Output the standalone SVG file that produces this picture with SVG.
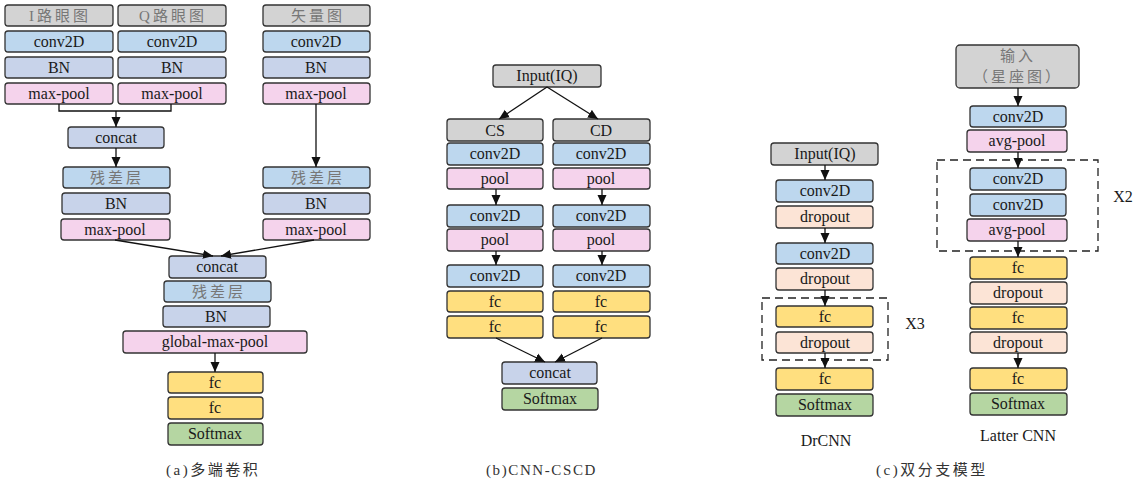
<svg xmlns="http://www.w3.org/2000/svg" width="1146" height="487" viewBox="0 0 1146 487">
<defs>
<marker id="ah" markerUnits="userSpaceOnUse" markerWidth="10" markerHeight="10" refX="10" refY="5" orient="auto">
<path d="M0,0.5 L10,5 L0,9.5 z" fill="#111"/>
</marker>
<style>
rect.g,rect.b,rect.n,rect.p,rect.y,rect.s,rect.d{stroke:#333;stroke-width:1.3}
.g{fill:#d3d3d3}.b{fill:#bdd7ee}.n{fill:#c8d3ea}.p{fill:#f5d3ec}.y{fill:#ffdf7f}.s{fill:#b5d6a2}.d{fill:#fce4d6}
text{font-family:"Liberation Serif","Times New Roman","DejaVu Serif",serif;font-size:16px;fill:#1a1a1a;text-anchor:middle}
.zh{font-family:"Liberation Serif","Noto Sans CJK SC",serif;fill:#777;font-size:15px;letter-spacing:3px}
.cap{font-family:"Liberation Serif","Noto Sans CJK SC",serif;font-size:15px;fill:#333;text-anchor:start;letter-spacing:2.5px}
.lt{letter-spacing:1.6px}
.c line,.c polyline{stroke:#111;stroke-width:1.3;fill:none}
.dash{fill:none;stroke:#222;stroke-width:1.3;stroke-dasharray:8,5}
</style>
</defs>
<rect width="1146" height="487" fill="#fff"/>

<!-- (a) -->
<g id="a-i"><rect class="g" x="5" y="5" width="108" height="21" rx="3"/><text class="zh" x="60" y="21">I路眼图</text></g>
<g id="a-q"><rect class="g" x="118" y="5" width="108" height="21" rx="3"/><text class="zh" x="173" y="21">Q路眼图</text></g>
<g id="a-v"><rect class="g" x="263" y="5" width="107" height="21" rx="3"/><text class="zh" x="318" y="21">矢量图</text></g>
<g id="a-c1"><rect class="b" x="5" y="31" width="108" height="21" rx="3"/><text x="59" y="47">conv2D</text></g>
<g id="a-c2"><rect class="b" x="118" y="31" width="108" height="21" rx="3"/><text x="172" y="47">conv2D</text></g>
<g id="a-c3"><rect class="b" x="263" y="31" width="107" height="21" rx="3"/><text x="316" y="47">conv2D</text></g>
<g id="a-bn1"><rect class="n" x="5" y="57" width="108" height="21" rx="3"/><text x="59" y="73">BN</text></g>
<g id="a-bn2"><rect class="n" x="118" y="57" width="108" height="21" rx="3"/><text x="172" y="73">BN</text></g>
<g id="a-bn3"><rect class="n" x="263" y="57" width="107" height="21" rx="3"/><text x="316" y="73">BN</text></g>
<g id="a-mp1"><rect class="p" x="5" y="83" width="108" height="21" rx="3"/><text x="59" y="99">max-pool</text></g>
<g id="a-mp2"><rect class="p" x="118" y="83" width="108" height="21" rx="3"/><text x="172" y="99">max-pool</text></g>
<g id="a-mp3"><rect class="p" x="263" y="83" width="107" height="21" rx="3"/><text x="316" y="99">max-pool</text></g>
<g id="a-concat1"><rect class="n" x="68" y="127" width="96" height="21" rx="3"/><text x="116" y="143">concat</text></g>
<g id="a-res1"><rect class="b" x="63" y="167" width="107" height="21" rx="3"/><text class="zh" x="117" y="183">残差层</text></g>
<g id="a-res2"><rect class="b" x="263" y="167" width="107" height="21" rx="3"/><text class="zh" x="318" y="183">残差层</text></g>
<g id="a-bn4"><rect class="n" x="62" y="193" width="108" height="21" rx="3"/><text x="116" y="209">BN</text></g>
<g id="a-bn5"><rect class="n" x="263" y="193" width="107" height="21" rx="3"/><text x="316" y="209">BN</text></g>
<g id="a-mp4"><rect class="p" x="61" y="219" width="109" height="21" rx="3"/><text x="115" y="235">max-pool</text></g>
<g id="a-mp5"><rect class="p" x="263" y="219" width="107" height="21" rx="3"/><text x="316" y="235">max-pool</text></g>
<g id="a-concat2"><rect class="n" x="169" y="256" width="97" height="22" rx="3"/><text x="217" y="272">concat</text></g>
<g id="a-res3"><rect class="b" x="164" y="281" width="107" height="21" rx="3"/><text class="zh" x="219" y="297">残差层</text></g>
<g id="a-bn6"><rect class="n" x="163" y="306" width="107" height="21" rx="3"/><text x="216" y="322">BN</text></g>
<g id="a-gmp"><rect class="p" x="123" y="331" width="184" height="22" rx="3"/><text x="215" y="347">global-max-pool</text></g>
<g id="a-fc1"><rect class="y" x="168" y="372" width="95" height="21" rx="3"/><text x="215" y="388">fc</text></g>
<g id="a-fc2"><rect class="y" x="168" y="397" width="95" height="22" rx="3"/><text x="215" y="413">fc</text></g>
<g id="a-sm"><rect class="s" x="168" y="423" width="95" height="22" rx="3"/><text x="215" y="439">Softmax</text></g>

<!-- (b) -->
<g id="b-in"><rect class="g" x="493" y="65" width="108" height="22" rx="3"/><text x="547" y="81">Input(IQ)</text></g>
<g id="b-cs"><rect class="g" x="447" y="119" width="96" height="22" rx="3"/><text x="495" y="136">CS</text></g>
<g id="b-cd"><rect class="g" x="553" y="119" width="97" height="22" rx="3"/><text x="601" y="136">CD</text></g>
<g id="b-c1"><rect class="b" x="447" y="143" width="96" height="22" rx="3"/><text x="495" y="159">conv2D</text></g>
<g id="b-c2"><rect class="b" x="553" y="143" width="97" height="22" rx="3"/><text x="601" y="159">conv2D</text></g>
<g id="b-p1"><rect class="p" x="447" y="168" width="96" height="21" rx="3"/><text x="495" y="184">pool</text></g>
<g id="b-p2"><rect class="p" x="553" y="168" width="97" height="21" rx="3"/><text x="601" y="184">pool</text></g>
<g id="b-c3"><rect class="b" x="447" y="205" width="96" height="22" rx="3"/><text x="495" y="221">conv2D</text></g>
<g id="b-c4"><rect class="b" x="553" y="205" width="97" height="22" rx="3"/><text x="601" y="221">conv2D</text></g>
<g id="b-p3"><rect class="p" x="447" y="229" width="96" height="22" rx="3"/><text x="495" y="245">pool</text></g>
<g id="b-p4"><rect class="p" x="553" y="229" width="97" height="22" rx="3"/><text x="601" y="245">pool</text></g>
<g id="b-c5"><rect class="b" x="447" y="265" width="96" height="22" rx="3"/><text x="495" y="281">conv2D</text></g>
<g id="b-c6"><rect class="b" x="553" y="265" width="97" height="22" rx="3"/><text x="601" y="281">conv2D</text></g>
<g id="b-f1"><rect class="y" x="447" y="291" width="96" height="21" rx="3"/><text x="495" y="307">fc</text></g>
<g id="b-f2"><rect class="y" x="553" y="291" width="97" height="21" rx="3"/><text x="601" y="307">fc</text></g>
<g id="b-f3"><rect class="y" x="447" y="316" width="96" height="22" rx="3"/><text x="495" y="332">fc</text></g>
<g id="b-f4"><rect class="y" x="553" y="316" width="97" height="22" rx="3"/><text x="601" y="332">fc</text></g>
<g id="b-concat"><rect class="n" x="502" y="362" width="95" height="22" rx="3"/><text x="550" y="378">concat</text></g>
<g id="b-sm"><rect class="s" x="502" y="388" width="96" height="22" rx="3"/><text x="550" y="404">Softmax</text></g>

<!-- (c) DrCNN -->
<g id="d-in"><rect class="g" x="771" y="143" width="107" height="22" rx="3"/><text x="825" y="159">Input(IQ)</text></g>
<g id="d-c1"><rect class="b" x="776" y="180" width="97" height="22" rx="3"/><text x="825" y="196">conv2D</text></g>
<g id="d-d1"><rect class="d" x="776" y="206" width="97" height="22" rx="3"/><text x="825" y="222">dropout</text></g>
<g id="d-c2"><rect class="b" x="776" y="243" width="97" height="21" rx="3"/><text x="825" y="259">conv2D</text></g>
<g id="d-d2"><rect class="d" x="776" y="268" width="97" height="22" rx="3"/><text x="825" y="284">dropout</text></g>
<g id="d-rep"><rect class="dash" x="762" y="298" width="126" height="62"/><text x="915" y="329">X3</text></g>
<g id="d-f1"><rect class="y" x="776" y="306" width="97" height="21" rx="3"/><text x="825" y="322">fc</text></g>
<g id="d-d3"><rect class="d" x="776" y="332" width="97" height="21" rx="3"/><text x="825" y="348">dropout</text></g>
<g id="d-f2"><rect class="y" x="776" y="368" width="97" height="22" rx="3"/><text x="825" y="384">fc</text></g>
<g id="d-sm"><rect class="s" x="776" y="394" width="97" height="22" rx="3"/><text x="825" y="410">Softmax</text></g>
<text x="826" y="446">DrCNN</text>

<!-- (c) Latter CNN -->
<g id="l-in"><rect class="g" x="956" y="45" width="123" height="43" rx="4"/><text class="zh" x="1018" y="61">输入</text><text class="zh" x="1018" y="82">（星座图）</text></g>
<g id="l-c1"><rect class="b" x="970" y="106" width="96" height="21" rx="3"/><text x="1018" y="122">conv2D</text></g>
<g id="l-a1"><rect class="p" x="967" y="130" width="100" height="22" rx="3"/><text x="1017" y="146">avg-pool</text></g>
<g id="l-rep"><rect class="dash" x="937" y="160" width="161" height="91"/><text x="1123" y="202">X2</text></g>
<g id="l-c2"><rect class="b" x="970" y="168" width="96" height="22" rx="3"/><text x="1018" y="184">conv2D</text></g>
<g id="l-c3"><rect class="b" x="970" y="194" width="96" height="22" rx="3"/><text x="1018" y="210">conv2D</text></g>
<g id="l-a2"><rect class="p" x="967" y="219" width="100" height="22" rx="3"/><text x="1017" y="235">avg-pool</text></g>
<g id="l-f1"><rect class="y" x="970" y="257" width="97" height="22" rx="3"/><text x="1018" y="273">fc</text></g>
<g id="l-d1"><rect class="d" x="970" y="282" width="97" height="22" rx="3"/><text x="1018" y="298">dropout</text></g>
<g id="l-f2"><rect class="y" x="970" y="307" width="97" height="22" rx="3"/><text x="1018" y="323">fc</text></g>
<g id="l-d2"><rect class="d" x="970" y="332" width="97" height="21" rx="3"/><text x="1018" y="348">dropout</text></g>
<g id="l-f3"><rect class="y" x="970" y="368" width="97" height="22" rx="3"/><text x="1018" y="384">fc</text></g>
<g id="l-sm"><rect class="s" x="970" y="393" width="97" height="22" rx="3"/><text x="1018" y="409">Softmax</text></g>
<text x="1018" y="441">Latter CNN</text>

<!-- captions -->
<text class="cap" x="166" y="475">(a)多端卷积</text>
<text class="cap lt" x="486" y="475">(b)CNN-CSCD</text>
<text class="cap" x="876" y="475">(c)双分支模型</text>

<!-- connectors -->
<g class="c" id="connectors">
<polyline points="59,104 59,111 171,111 171,104"/>
<line x1="116" y1="111" x2="116" y2="127" marker-end="url(#ah)"/>
<line x1="116" y1="148" x2="116" y2="167" marker-end="url(#ah)"/>
<line x1="316" y1="104" x2="316" y2="167" marker-end="url(#ah)"/>
<line x1="115" y1="240" x2="213" y2="256" marker-end="url(#ah)"/>
<line x1="314" y1="240" x2="221" y2="256" marker-end="url(#ah)"/>
<line x1="215" y1="353" x2="215" y2="372" marker-end="url(#ah)"/>

<line x1="547" y1="87" x2="499" y2="119" marker-end="url(#ah)"/>
<line x1="547" y1="87" x2="598" y2="119" marker-end="url(#ah)"/>
<line x1="496" y1="189" x2="496" y2="205" marker-end="url(#ah)"/>
<line x1="602" y1="189" x2="602" y2="205" marker-end="url(#ah)"/>
<line x1="496" y1="251" x2="496" y2="265" marker-end="url(#ah)"/>
<line x1="602" y1="251" x2="602" y2="265" marker-end="url(#ah)"/>
<line x1="496" y1="338" x2="545" y2="362" marker-end="url(#ah)"/>
<line x1="602" y1="338" x2="555" y2="362" marker-end="url(#ah)"/>

<line x1="825" y1="165" x2="825" y2="180" marker-end="url(#ah)"/>
<line x1="825" y1="228" x2="825" y2="243" marker-end="url(#ah)"/>
<line x1="825" y1="290" x2="825" y2="306" marker-end="url(#ah)"/>
<line x1="825" y1="353" x2="825" y2="368" marker-end="url(#ah)"/>

<line x1="1018" y1="88" x2="1018" y2="106" marker-end="url(#ah)"/>
<line x1="1018" y1="152" x2="1018" y2="168" marker-end="url(#ah)"/>
<line x1="1018" y1="241" x2="1018" y2="257" marker-end="url(#ah)"/>
<line x1="1018" y1="353" x2="1018" y2="368" marker-end="url(#ah)"/>
</g>
</svg>
